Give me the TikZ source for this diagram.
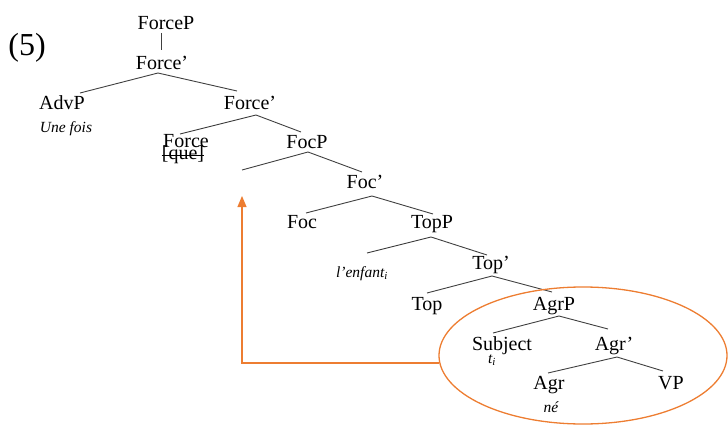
\documentclass[tikz,border=0pt]{standalone}
\usepackage{fontspec}
\setmainfont{Liberation Serif}
\usetikzlibrary{arrows.meta,shapes.geometric}
\definecolor{treeline}{HTML}{404040}
\definecolor{accent}{HTML}{ED7D31}
\begin{document}
\begin{tikzpicture}[x=1pt,y=-1pt,
  lab/.style={anchor=base,inner sep=0pt,font=\fontsize{20}{24}\selectfont},
  sm/.style={anchor=base,inner sep=0pt,font=\fontsize{15.5}{18}\selectfont\itshape},
  branch/.style={draw=treeline,line width=0.9pt},
  move/.style={draw=accent,line width=1.1pt}]
\useasboundingbox (0,0) rectangle (728,425);
% labels
\node[anchor=base,inner sep=0pt,font=\fontsize{32}{36}\selectfont] (ex) at (27,56) {(5)};
\node[lab] (forcep) at (166,30) {ForceP};
\node[lab] (forcebar1) at (162,70) {Force’};
\node[lab] (advp) at (62,110) {AdvP};
\node[sm] (unefois) at (66,133) {Une fois};
\node[lab] (forcebar2) at (250,110) {Force’};
\node[lab] (force) at (186,148) {Force};
\node[lab] (que) at (183,159) {[que]};
\node[lab] (focp) at (307,149) {FocP};
\node[lab] (focbar) at (365,188) {Foc’};
\node[lab] (foc) at (302,228) {Foc};
\node[lab] (topp) at (432,228) {TopP};
\node[sm] (enfant) at (362,277) {l’enfant\textsubscript{i}};
\node[lab] (topbar) at (491,269) {Top’};
\node[lab] (top) at (427,310) {Top};
\node[lab] (agrp) at (554,310) {AgrP};
\node[lab] (subject) at (502,350) {Subject};
\node[sm] (trace) at (492,363) {t\textsubscript{i}};
\node[lab] (agrbar) at (614,350) {Agr’};
\node[lab] (agr) at (549,389) {Agr};
\node[sm] (ne) at (551,412) {né};
\node[lab] (vp) at (671,389) {VP};
% strike-through on [que]
\draw[line width=0.8pt] ([yshift=4pt]que.base west) -- ([yshift=4pt]que.base east);
% branch points
\coordinate (fpb) at (161,33);
\coordinate (fbt) at (161,50);
\coordinate (p1) at (158,73);
\coordinate (p1l) at (80,93);
\coordinate (p1r) at (237,91);
\coordinate (p2) at (256,115);
\coordinate (p2l) at (180,134);
\coordinate (p2r) at (301,132);
\coordinate (p3) at (308,152);
\coordinate (p3l) at (242,170);
\coordinate (p3r) at (362,172);
\coordinate (p4) at (372,196);
\coordinate (p4l) at (306,213);
\coordinate (p4r) at (433,214);
\coordinate (p5) at (431,237);
\coordinate (p5l) at (367,253);
\coordinate (p5r) at (487,255);
\coordinate (p6) at (492,276);
\coordinate (p6l) at (427,293);
\coordinate (p6r) at (552,292);
\coordinate (p7) at (559,316);
\coordinate (p7l) at (493,333);
\coordinate (p7r) at (608,329);
\coordinate (p8) at (617,357);
\coordinate (p8l) at (548,373);
\coordinate (p8r) at (663,371);
% branches
\draw[branch] (fpb) -- (fbt);
\draw[branch] (p1l) -- (p1) -- (p1r);
\draw[branch] (p2l) -- (p2) -- (p2r);
\draw[branch] (p3l) -- (p3) -- (p3r);
\draw[branch] (p4l) -- (p4) -- (p4r);
\draw[branch] (p5l) -- (p5) -- (p5r);
\draw[branch] (p6l) -- (p6) -- (p6r);
\draw[branch] (p7l) -- (p7) -- (p7r);
\draw[branch] (p8l) -- (p8) -- (p8r);
% movement
\node[ellipse,draw=accent,line width=1.3pt,minimum width=288pt,minimum height=137pt,inner sep=0pt] (ring) at (583,355.5) {};
\coordinate (gap) at (242,196);
\draw[move,-{Triangle[width=9pt,length=11pt]}] (ring.183) -| (gap);
\end{tikzpicture}
\end{document}
